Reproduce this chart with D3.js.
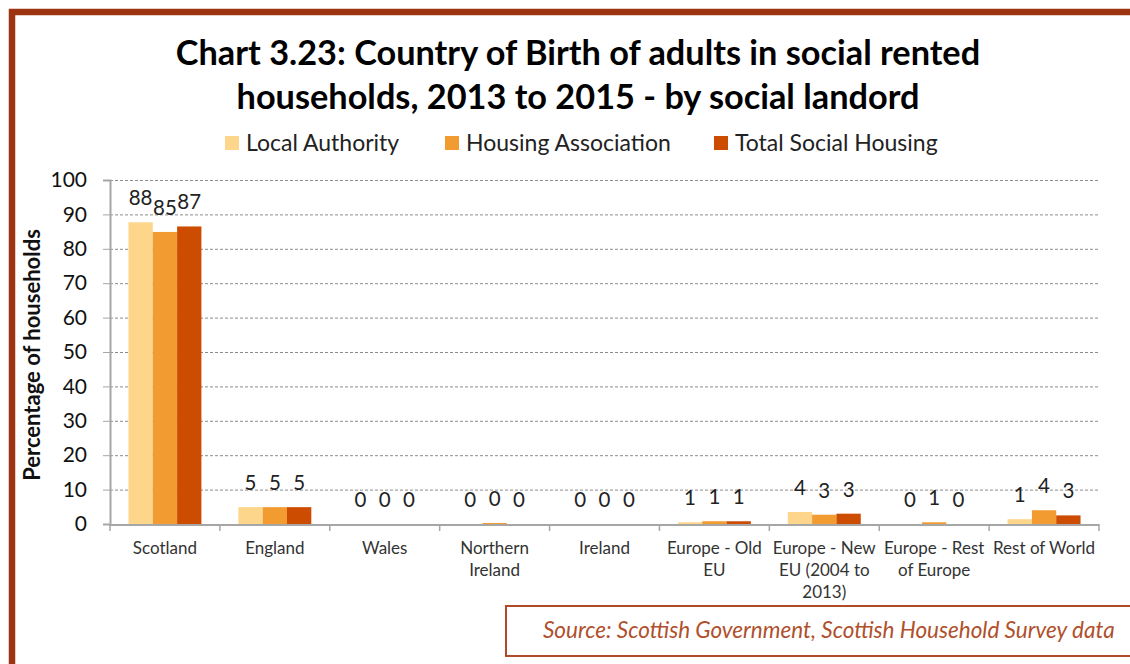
<!DOCTYPE html>
<html>
<head>
<meta charset="utf-8">
<script src="https://cdn.jsdelivr.net/npm/d3@7"></script>
<style>
  body { margin: 0; background: #fff; }
  svg { display: block; font-family: Lato, "Open Sans", sans-serif; }
</style>
</head>
<body>
<div id="chart"></div>
<script>
var categories = [
	["Scotland"],
	["England"],
	["Wales"],
	["Northern", "Ireland"],
	["Ireland"],
	["Europe - Old", "EU"],
	["Europe - New", "EU (2004 to", "2013)"],
	["Europe - Rest", "of Europe"],
	["Rest of World"]
];
var seriesNames = ["Local Authority", "Housing Association", "Total Social Housing"];
var localAuthority     = [87.7, 4.9, 0, 0, 0, 0.5, 3.5, 0, 1.4];
var housingAssociation = [84.9, 4.9, 0, 0.3, 0, 0.8, 2.7, 0.5, 4.0];
var totalSocial        = [86.5, 4.9, 0, 0, 0, 0.8, 3.0, 0, 2.5];
var yTicks = [0, 10, 20, 30, 40, 50, 60, 70, 80, 90, 100];
var colors = ["#FDD68B", "#F29B30", "#CC4C02"];

var series = [localAuthority, housingAssociation, totalSocial];
var W = 1130, H = 664;
var plot = {left: 110, right: 1099, top: 180, bottom: 524};

var svg = d3.select("#chart").append("svg")
	.attr("width", W)
	.attr("height", H);

// frame
svg.append("path")
	.attr("d", "M12,664 L12,12 L1130,12")
	.attr("fill", "none")
	.attr("stroke", "#9C3412")
	.attr("stroke-width", 6.5);

// title
var title = svg.append("text")
	.attr("text-anchor", "middle")
	.attr("font-weight", "bold")
	.attr("font-size", 34.3)
	.attr("fill", "#000");
title.append("tspan").attr("x", 578).attr("y", 65).text("Chart 3.23: Country of Birth of adults in social rented");
title.append("tspan").attr("x", 578).attr("y", 109).text("households, 2013 to 2015 - by social landord");

// legend
var legendX = [225, 445, 714];
var legend = svg.append("g");
seriesNames.forEach(function(name, i) {
	legend.append("rect")
		.attr("x", legendX[i]).attr("y", 136)
		.attr("width", 14).attr("height", 14)
		.attr("fill", colors[i]);
	legend.append("text")
		.attr("x", legendX[i] + 21).attr("y", 151)
		.attr("font-size", 23)
		.attr("fill", "#222")
		.text(name);
});

var x0 = d3.scaleBand()
	.domain(d3.range(categories.length))
	.range([plot.left, plot.right])
	.paddingInner(0.336)
	.paddingOuter(0.168);
var x1 = d3.scaleBand()
	.domain(d3.range(series.length))
	.range([0, x0.bandwidth()]);
var y = d3.scaleLinear().domain([0, 100]).range([plot.bottom, plot.top]);

// gridlines
svg.append("g")
	.selectAll("line")
	.data(yTicks.slice(1))
	.enter().append("line")
	.attr("x1", plot.left).attr("x2", plot.right)
	.attr("y1", function(d) { return y(d) + 0.5; })
	.attr("y2", function(d) { return y(d) + 0.5; })
	.attr("stroke", "#8c8c8c")
	.attr("stroke-width", 1)
	.attr("stroke-dasharray", "3,2");

// y axis
var yAxis = svg.append("g")
	.attr("transform", "translate(" + plot.left + ",0)")
	.call(d3.axisLeft(y).tickValues(yTicks).tickSize(7).tickPadding(16));
yAxis.select(".domain").attr("stroke", "#a6a6a6").attr("stroke-width", 2);
yAxis.selectAll(".tick line").attr("stroke", "#a6a6a6");
yAxis.selectAll(".tick text")
	.attr("font-family", "Lato, sans-serif")
	.attr("font-size", 21)
	.attr("fill", "#111");

svg.append("text")
	.attr("transform", "translate(40,355) rotate(-90)")
	.attr("text-anchor", "middle")
	.attr("font-weight", "bold")
	.attr("font-size", 22)
	.attr("fill", "#111")
	.text("Percentage of households");

// bars
var groups = svg.append("g")
	.selectAll("g")
	.data(categories)
	.enter().append("g")
	.attr("transform", function(d, i) { return "translate(" + x0(i) + ",0)"; });

groups.selectAll("rect")
	.data(function(d, i) { return series.map(function(s, j) { return {j: j, v: s[i]}; }); })
	.enter().append("rect")
	.attr("x", function(d) { return x1(d.j); })
	.attr("width", x1.bandwidth())
	.attr("y", function(d) { return y(d.v); })
	.attr("height", function(d) { return y(0) - y(d.v); })
	.attr("fill", function(d) { return colors[d.j]; });

groups.selectAll("text.val")
	.data(function(d, i) { return series.map(function(s, j) { return {j: j, v: s[i]}; }); })
	.enter().append("text")
	.attr("class", "val")
	.attr("x", function(d) { return x1(d.j) + x1.bandwidth() / 2; })
	.attr("y", function(d) { return y(d.v) - 17; })
	.attr("text-anchor", "middle")
	.attr("font-size", 20.5)
	.attr("fill", "#222")
	.text(function(d) { return Math.round(d.v); });

// x axis
var step = x0.step();
var gap = (step - x0.bandwidth()) / 2;
svg.append("line")
	.attr("x1", plot.left).attr("x2", plot.right)
	.attr("y1", plot.bottom + 1).attr("y2", plot.bottom + 1)
	.attr("stroke", "#a6a6a6").attr("stroke-width", 2);
svg.append("g")
	.selectAll("line")
	.data(d3.range(categories.length + 1))
	.enter().append("line")
	.attr("x1", function(i) { return i < categories.length ? x0(i) - gap : x0(i - 1) + x0.bandwidth() + gap; })
	.attr("x2", function(i) { return i < categories.length ? x0(i) - gap : x0(i - 1) + x0.bandwidth() + gap; })
	.attr("y1", plot.bottom).attr("y2", plot.bottom + 7)
	.attr("stroke", "#a6a6a6").attr("stroke-width", 1.5);

var xLabels = svg.append("g")
	.selectAll("text")
	.data(categories)
	.enter().append("text")
	.attr("text-anchor", "middle")
	.attr("font-size", 17)
	.attr("fill", "#333");
xLabels.each(function(lines, i) {
	var t = d3.select(this);
	lines.forEach(function(line, k) {
		t.append("tspan")
			.attr("x", x0(i) + x0.bandwidth() / 2)
			.attr("y", 554 + k * 22)
			.text(line);
	});
});

// source box
svg.append("path")
	.attr("d", "M1132,606 L506,606 L506,656 L1132,656")
	.attr("fill", "none")
	.attr("stroke", "#B04A2A")
	.attr("stroke-width", 2);
svg.append("text")
	.attr("x", 543).attr("y", 638)
	.attr("font-style", "italic")
	.attr("font-size", 22.5)
	.attr("fill", "#B0502C")
	.text("Source: Scottish Government, Scottish Household Survey data");
</script>
</body>
</html>
